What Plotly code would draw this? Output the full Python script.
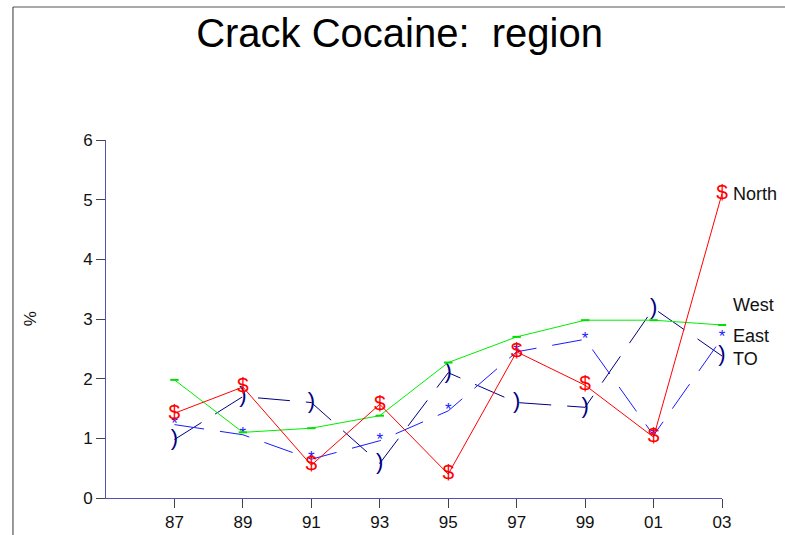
import plotly.graph_objects as go

# Survey years (two-digit labels) and regional prevalence (%)
years = ["87", "89", "91", "93", "95", "97", "99", "01", "03"]
north = [1.42, 1.86, 0.55, 1.57, 0.40, 2.45, 1.89, 1.02, 5.10]
west = [1.98, 1.10, 1.17, 1.38, 2.27, 2.70, 2.98, 2.98, 2.90]
east = [1.23, 1.06, 0.65, 0.96, 1.46, 2.45, 2.66, 1.05, 2.68]
toronto = [0.98, 1.70, 1.60, 0.58, 2.10, 1.60, 1.52, 3.18, 2.38]

# End-of-line labels: (text, y position in data units)
end_labels = [("North", 5.10), ("West", 3.23), ("East", 2.71), ("TO", 2.33)]

y_ticks = [0, 1, 2, 3, 4, 5, 6]
xs = list(range(len(years)))

FONT = "Liberation Sans, Arial, Helvetica, sans-serif"

fig = go.Figure()

fig.add_trace(go.Scatter(
    x=xs, y=toronto, mode="lines+text", text=[")"] * len(xs),
    textposition="middle center",
    textfont=dict(color="#000080", size=22, family=FONT),
    line=dict(color="#000080", width=1, dash="32px,16px"),
    cliponaxis=False, showlegend=False, name="TO"))

fig.add_trace(go.Scatter(
    x=xs, y=east, mode="lines+text", text=["*"] * len(xs),
    textposition="middle center",
    textfont=dict(color="#1a1aff", size=17, family=FONT),
    line=dict(color="#1a1aff", width=1, dash="30px,16px"),
    cliponaxis=False, showlegend=False, name="East"))

fig.add_trace(go.Scatter(
    x=xs, y=west, mode="lines+markers",
    marker=dict(symbol="line-ew", size=6, color="#00e000",
                line=dict(color="#00e000", width=2)),
    line=dict(color="#00ee00", width=1),
    cliponaxis=False, showlegend=False, name="West"))

fig.add_trace(go.Scatter(
    x=xs, y=north, mode="lines+text", text=["$"] * len(xs),
    textposition="middle center",
    textfont=dict(color="#ff0000", size=21, family=FONT),
    line=dict(color="#ff0000", width=1),
    cliponaxis=False, showlegend=False, name="North"))

for label, ypos in end_labels:
    fig.add_annotation(x=xs[-1], y=ypos, text=label, showarrow=False,
                       xanchor="left", yanchor="middle", xshift=9,
                       font=dict(size=18, color="#111111", family=FONT))

# Rotated y-axis title
fig.add_annotation(x=-0.123, y=0.5, xref="paper", yref="paper", text="%",
                   showarrow=False, textangle=-90, xanchor="center", yanchor="middle",
                   font=dict(size=17, color="#111111", family=FONT))

# Outer frame (top and left edges)
fig.add_shape(type="line", xref="paper", yref="paper",
              x0=-0.151, x1=1.12, y0=1.3715, y1=1.3715,
              line=dict(color="#555555", width=1))
fig.add_shape(type="line", xref="paper", yref="paper",
              x0=-0.151, x1=-0.151, y0=1.3715, y1=-0.12,
              line=dict(color="#333333", width=1))

fig.update_layout(
    width=785, height=535,
    margin=dict(l=106, r=63, t=140, b=37),
    paper_bgcolor="white", plot_bgcolor="white",
    title=dict(text="Crack Cocaine:\u00a0\u00a0region", x=0.509, xref="container",
               y=0.938, yref="container", xanchor="center", yanchor="middle",
               font=dict(size=40, color="#000000", family=FONT)),
    font=dict(family=FONT, size=17, color="#111111"),
)

fig.update_xaxes(
    range=[-1, len(years) - 1], tickvals=xs, ticktext=years, automargin=False,
    showgrid=False, zeroline=False, showline=True, linecolor="#5050b8", linewidth=1,
    ticks="outside", ticklen=9, tickcolor="#444444", tickwidth=1,
    tickfont=dict(size=17, color="#111111"))

fig.update_yaxes(
    range=[0, 6], tickvals=y_ticks, automargin=False,
    showgrid=False, zeroline=False, showline=True, linecolor="#5050b8", linewidth=1,
    ticks="outside", ticklen=9, tickcolor="#444444", tickwidth=1,
    tickfont=dict(size=17, color="#111111"))

fig.write_html("out.html")
